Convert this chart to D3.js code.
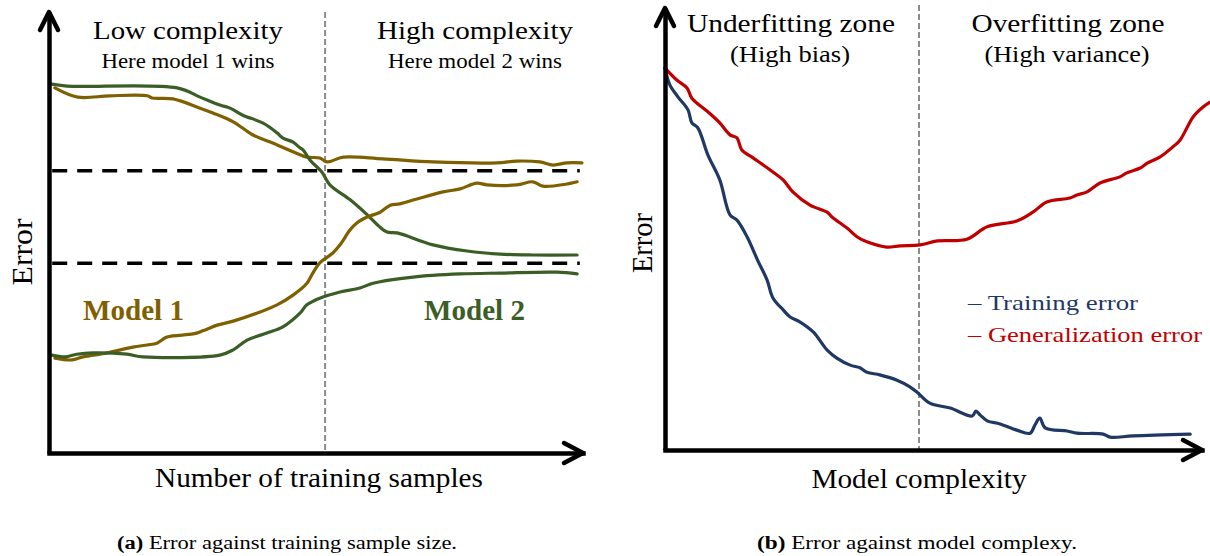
<!DOCTYPE html>
<html>
<head>
<meta charset="utf-8">
<script src="https://cdn.jsdelivr.net/npm/d3@7"></script>
<style>
  html, body { margin: 0; padding: 0; background: #fff; }
  svg { display: block; }
  text { font-family: "Liberation Serif", "Times New Roman", serif; }
</style>
</head>
<body>
<svg id="fig" width="1210" height="556"></svg>
<script>
// ---------- data: (a) learning curves, x = training samples, y = error ----------
const model1Validation = [[1.1,82.8],[5.4,80.7],[11.4,81.0],[18.4,81.0],[19.3,80.5],[23.2,80.3],[28.3,78.2],[30.7,77.1],[34.5,75.1],[38.2,72.1],[41.9,70.3],[45.7,68.3],[48.3,67.1],[50.7,66.9],[52.1,66.0],[55.1,67.1],[62.5,66.7],[71.9,66.0],[83.9,65.8],[87.6,66.2],[91.9,66.0],[94.4,65.3],[97.0,65.8],[99.8,65.8]];
const model1Training = [[1.1,21.5],[4.3,21.1],[6.4,21.8],[10.9,22.7],[15.7,24.0],[18.4,24.5],[20.2,24.9],[22.1,26.3],[27.0,27.0],[28.8,27.7],[31.5,29.0],[34.5,29.9],[42.7,33.6],[45.7,35.8],[48.3,38.5],[49.4,40.8],[50.7,43.1],[53.2,45.4],[54.5,47.2],[56.4,50.6],[57.7,52.2],[59.6,53.5],[62.0,54.6],[63.9,56.2],[65.7,56.5],[68.9,57.6],[73.8,59.2],[77.0,59.9],[80.1,61.2],[82.0,60.8],[87.6,60.8],[90.6,61.5],[92.5,60.5],[97.0,61.0],[98.9,61.5]];
const model2Validation = [[0.2,83.7],[3.4,83.2],[24.0,82.8],[28.3,80.7],[32.0,78.9],[33.9,78.2],[36.3,76.6],[40.1,74.8],[42.7,72.6],[43.8,71.4],[45.7,70.5],[47.0,69.2],[47.6,68.7],[48.9,66.4],[51.1,63.7],[52.6,60.8],[56.4,57.4],[59.6,54.0],[62.0,51.2],[63.3,50.1],[65.2,49.9],[71.9,47.2],[78.3,45.8],[84.5,45.1],[90.6,44.9],[98.9,44.9]];
const model2Training = [[0.6,22.2],[3.0,21.8],[5.2,22.4],[8.2,22.7],[14.6,22.4],[17.6,21.8],[32.0,22.2],[34.5,23.4],[37.1,25.6],[40.8,27.2],[43.8,28.6],[47.0,31.7],[48.3,33.6],[50.7,35.1],[54.5,36.5],[58.2,37.4],[60.7,38.5],[68.2,39.9],[77.0,40.6],[84.5,40.8],[95.1,41.0],[98.9,40.6]];
const errorLevels = [64, 43];          // horizontal reference levels
const sampleSplit = 51.7;              // boundary between the two regimes

// ---------- data: (b) error vs. model complexity ----------
const trainingError = [[0,86.4],[0.9,82.6],[2.4,79.9],[4.3,76.9],[5.0,74.0],[6.1,72.9],[8.0,66.7],[10.2,61.1],[12.1,53.2],[13.4,52.0],[15.3,48.2],[17.3,42.8],[19.0,38.5],[20.1,34.4],[22.0,31.7],[23.3,30.1],[25.1,29.0],[27.6,26.7],[30.2,22.6],[32.0,20.8],[34.5,19.2],[36.3,18.6],[37.6,17.6],[40.0,17.0],[43.2,15.8],[45.6,14.3],[47.1,12.9],[49.3,10.6],[53.1,9.5],[57.2,7.7],[57.9,8.8],[58.7,7.9],[60.0,6.6],[62.4,5.9],[65.5,4.5],[68.0,3.8],[68.9,5.7],[69.8,7.2],[70.8,5.0],[74.9,4.3],[76.7,3.8],[81.6,3.6],[82.9,2.9],[87.2,3.2],[97.8,3.6]];
const generalizationError = [[0,86.4],[2.2,83.7],[4.1,81.9],[5.0,79.6],[8.0,76.5],[10.2,74.0],[12.1,71.3],[13.4,70.6],[14.3,67.9],[16.4,66.1],[20.1,62.9],[22.0,61.1],[23.8,58.4],[27.0,55.4],[30.2,53.8],[31.1,52.7],[33.9,50.2],[35.8,48.2],[37.6,47.1],[41.3,45.9],[43.8,46.2],[47.5,46.4],[50.7,47.3],[56.2,47.7],[60.0,50.5],[65.5,51.8],[68.5,53.8],[71.1,56.1],[75.4,57.0],[76.7,57.7],[78.6,58.4],[81.0,60.4],[84.7,61.8],[86.0,62.7],[88.5,63.8],[89.8,64.9],[92.2,66.3],[94.6,68.6],[95.9,70.1],[97.2,72.9],[98.3,75.3],[100.2,77.6],[101.5,78.7]];
const complexitySplit = 47.3;          // underfitting / overfitting boundary

// ---------- styles ----------
const BROWN = "#7f6000", GREEN = "#3b5e26", NAVY = "#1f3864", RED = "#c00000";

const svg = d3.select("#fig");
svg.append("rect").attr("width", 1210).attr("height", 556).attr("fill", "#fff");

const curve = d3.curveCatmullRom.alpha(0.5);

function drawAxes(g, x, y) {
  // axis domains only (no ticks), thick black
  g.append("g").attr("transform", `translate(0,${y.range()[0]})`)
    .call(d3.axisBottom(x).tickValues([]).tickSizeOuter(0))
    .call(a => a.select(".domain").attr("stroke", "#000").attr("stroke-width", 4.5).attr("stroke-linecap", "square"));
  g.append("g").attr("transform", `translate(${x.range()[0]},0)`)
    .call(d3.axisLeft(y).tickValues([]).tickSizeOuter(0))
    .call(a => a.select(".domain").attr("stroke", "#000").attr("stroke-width", 4.5));
  // open arrowheads
  const x1 = x.range()[1], y0 = y.range()[0], x0 = x.range()[0], y1 = y.range()[1];
  g.append("path")
    .attr("d", `M${x1 - 19},${y0 - 10}L${x1},${y0}L${x1 - 19},${y0 + 10}`)
    .attr("fill", "none").attr("stroke", "#000").attr("stroke-width", 4.5)
    .attr("stroke-linecap", "round").attr("stroke-linejoin", "round");
  g.append("path")
    .attr("d", `M${x0 - 9},${y1 + 18}L${x0},${y1}L${x0 + 9},${y1 + 18}`)
    .attr("fill", "none").attr("stroke", "#000").attr("stroke-width", 4.5)
    .attr("stroke-linecap", "round").attr("stroke-linejoin", "round");
}

function addText(g, str, x, y, opts) {
  const t = g.append("text")
    .attr("x", x).attr("y", y)
    .attr("font-size", opts.size)
    .attr("fill", opts.color || "#000")
    .attr("text-anchor", opts.anchor || "middle")
    .attr("font-weight", opts.bold ? "bold" : "normal")
    .text(str);
  if (opts.width) t.attr("textLength", opts.width).attr("lengthAdjust", "spacingAndGlyphs");
  if (opts.rotate) t.attr("transform", `rotate(-90,${x},${y})`);
  return t;
}

// ================= (a) =================
{
  const g = svg.append("g");
  const x = d3.scaleLinear().domain([0, 100]).range([49, 583]);
  const y = d3.scaleLinear().domain([0, 100]).range([453, 12]);

  // regime boundary
  g.append("line")
    .attr("x1", x(sampleSplit)).attr("x2", x(sampleSplit))
    .attr("y1", y(100)).attr("y2", y(0))
    .attr("stroke", "#8c8c8c").attr("stroke-width", 2).attr("stroke-dasharray", "6,3");

  // reference levels
  g.selectAll("line.level").data(errorLevels).join("line")
    .attr("class", "level")
    .attr("x1", x(0.6)).attr("x2", x(99.4))
    .attr("y1", d => y(d)).attr("y2", d => y(d))
    .attr("stroke", "#000").attr("stroke-width", 3.5).attr("stroke-dasharray", "15,10");

  const line = d3.line().x(d => x(d[0])).y(d => y(d[1])).curve(curve);
  [[model1Validation, BROWN], [model2Validation, GREEN], [model1Training, BROWN], [model2Training, GREEN]]
    .forEach(([d, c]) => g.append("path").datum(d).attr("d", line)
      .attr("fill", "none").attr("stroke", c).attr("stroke-width", 3.2)
      .attr("stroke-linejoin", "round").attr("stroke-linecap", "round"));

  drawAxes(g, x, y);

  addText(g, "Low complexity", 188, 39, { size: 25, width: 190 });
  addText(g, "Here model 1 wins", 188, 68, { size: 22, width: 173 });
  addText(g, "High complexity", 475, 39, { size: 25, width: 196 });
  addText(g, "Here model 2 wins", 475, 68, { size: 22, width: 174 });
  addText(g, "Error", 32, 252, { size: 29, width: 67, rotate: true });
  addText(g, "Number of training samples", 319, 487, { size: 27, width: 328 });
  addText(g, "Model 1", 83, 320, { size: 29, width: 101, anchor: "start", bold: true, color: BROWN });
  addText(g, "Model 2", 424, 320, { size: 29, width: 101, anchor: "start", bold: true, color: GREEN });

  const cap = g.append("text").attr("x", 117).attr("y", 549).attr("font-size", 18.5)
    .attr("textLength", 340).attr("lengthAdjust", "spacingAndGlyphs");
  cap.append("tspan").attr("font-weight", "bold").text("(a)");
  cap.append("tspan").text(" Error against training sample size.");
}

// ================= (b) =================
{
  const g = svg.append("g");
  const x = d3.scaleLinear().domain([0, 100]).range([665, 1202]);
  const y = d3.scaleLinear().domain([0, 100]).range([450, 8]);

  g.append("line")
    .attr("x1", x(complexitySplit)).attr("x2", x(complexitySplit))
    .attr("y1", 5).attr("y2", y(0))
    .attr("stroke", "#8c8c8c").attr("stroke-width", 2).attr("stroke-dasharray", "6,3");

  const line = d3.line().x(d => x(d[0])).y(d => y(d[1])).curve(curve);
  [[generalizationError, RED], [trainingError, NAVY]]
    .forEach(([d, c]) => g.append("path").datum(d).attr("d", line)
      .attr("fill", "none").attr("stroke", c).attr("stroke-width", 3.2)
      .attr("stroke-linejoin", "round").attr("stroke-linecap", "round"));

  drawAxes(g, x, y);

  addText(g, "Underfitting zone", 791, 32, { size: 25, width: 208 });
  addText(g, "(High bias)", 790, 62, { size: 24, width: 120 });
  addText(g, "Overfitting zone", 1068, 32, { size: 25, width: 193 });
  addText(g, "(High variance)", 1067, 62, { size: 24, width: 165 });
  addText(g, "Error", 652, 243, { size: 29, width: 60, rotate: true });
  addText(g, "Model complexity", 919, 488, { size: 27, width: 215 });

  addText(g, "\u2013 Training error", 968, 310, { size: 22, width: 170, anchor: "start", color: NAVY });
  addText(g, "\u2013 Generalization error", 968, 342, { size: 22, width: 234, anchor: "start", color: RED });

  const cap = g.append("text").attr("x", 757).attr("y", 549).attr("font-size", 18.5)
    .attr("textLength", 320).attr("lengthAdjust", "spacingAndGlyphs");
  cap.append("tspan").attr("font-weight", "bold").text("(b)");
  cap.append("tspan").text(" Error against model complexy.");
}
</script>
</body>
</html>
